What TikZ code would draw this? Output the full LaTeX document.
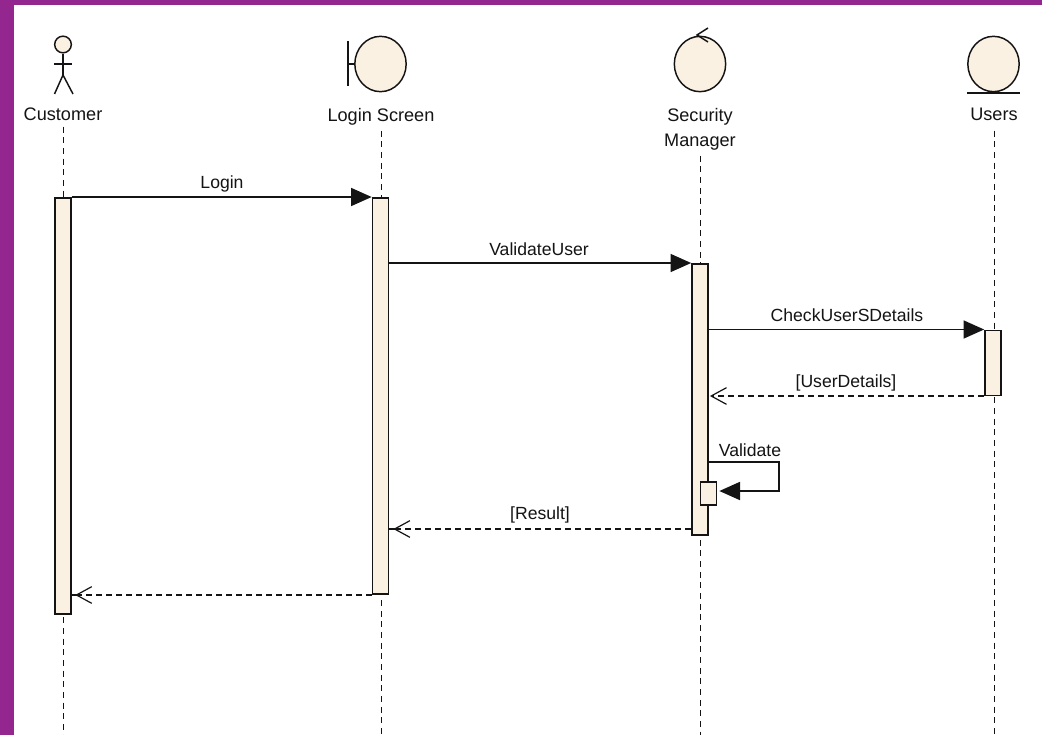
\documentclass[tikz,border=0pt]{standalone}
\usepackage{fontspec}
\setmainfont{Liberation Sans}
\usetikzlibrary{arrows.meta,shapes.geometric}
\definecolor{umlfill}{HTML}{FBF1E3}
\definecolor{frame}{HTML}{93278F}
\definecolor{ink}{HTML}{141414}
\tikzset{
  x=0.75pt,y=-0.75pt,
  lbl/.style={font=\fontsize{13.2pt}{18.7pt}\selectfont,text=ink,inner sep=0pt,align=center},
  headname/.style={lbl,font=\fontsize{13.6pt}{18.7pt}\selectfont,anchor=north},
  msgname/.style={lbl,anchor=base},
  act/.style={draw=ink,fill=umlfill,line width=1.25pt,inner sep=0pt,minimum width=12pt,anchor=north},
  roundel/.style={ellipse,draw=ink,fill=umlfill,line width=1.1pt,inner sep=0pt,minimum width=38.5pt,minimum height=41.5pt},
  glyph/.style={draw=ink,line width=1.1pt},
  life/.style={draw=ink,line width=1.2pt,dash pattern=on 4.5pt off 3.5pt},
  call/.style={draw=ink,line width=1.3pt,-{Triangle[length=15.5pt,width=13.5pt]}},
  rettip/.style={draw=ink,line width=1.2pt,dash pattern=on 4.5pt off 3pt,-{Straight Barb[length=11.5pt,width=12.5pt,line width=0.9pt]}},
  stub/.style={draw=ink,line width=1.2pt},
}
\begin{document}
\begin{tikzpicture}
\useasboundingbox (0,0) rectangle (1042,735);
\fill[white] (0,0) rectangle (1042,735);
\fill[frame] (0,0) rectangle (14,735);
\fill[frame] (0,0) rectangle (1042,5);

% heads
\node[circle,draw=ink,fill=umlfill,line width=1.1pt,inner sep=0pt,minimum size=12.5pt] (custhead) at (63,44.5) {};
\coordinate (custhip) at (63,75);
\coordinate (custarmL) at (54,64);
\coordinate (custarmR) at (72,64);
\coordinate (custlegL) at (54.5,94);
\coordinate (custlegR) at (73,94);
\draw[glyph] (custhead.south) -- (custhip);
\draw[glyph] (custarmL) -- (custarmR);
\draw[glyph] (custlegL) -- (custhip) -- (custlegR);

\node[roundel] (login) at (380.5,64) {};
\coordinate (barT) at (348,41);
\coordinate (barB) at (348,86);
\coordinate (barM) at (348,64);
\draw[glyph] (barT) -- (barB);
\draw[glyph] (barM) -- (login.west);

\node[roundel] (sec) at (700,64) {};
\coordinate (ctlTip) at (697,35);
\coordinate (ctlA) at (708,28);
\coordinate (ctlB) at (708,42);
\draw[glyph] (ctlA) -- (ctlTip) -- (ctlB);

\node[roundel] (users) at (993.5,64) {};
\coordinate (entL) at (967,93);
\coordinate (entR) at (1020,93);
\draw[glyph,line width=1.4pt] (entL) -- (entR);

% names
\node[headname] (custname) at (63,108) {Customer};
\node[headname] (loginname) at (381,108) {Login Screen};
\node[headname] (secname) at (700,108) {Security\\Manager};
\node[headname] (usersname) at (994,108) {Users};

% lifeline ends
\coordinate (custend) at (63.5,735);
\coordinate (loginend) at (381.5,735);
\coordinate (secend) at (700.5,735);
\coordinate (usersend) at (994.5,735);
\draw[life,shorten <=4pt] (custname.south -| custend) -- (custend);
\draw[life,shorten <=4pt] (loginname.south -| loginend) -- (loginend);
\draw[life,shorten <=4pt] (secname.south -| secend) -- (secend);
\draw[life,shorten <=7pt] (usersname.south -| usersend) -- (usersend);

% activations
\node[act,minimum height=312pt] (custbox) at (63,197) {};
\node[act,minimum height=297pt] (loginbox) at (380.5,197) {};
\node[act,minimum height=203.25pt] (secbox) at (700,263) {};
\node[act,minimum height=17.25pt] (selfbox) at (708.5,481) {};
\node[act,minimum height=48.75pt] (usersbox) at (993,329.5) {};

% calls
\draw[call] (custbox.north east) -- (loginbox.north west);
\node[msgname] (m1) at (222,188) {Login};
\draw[call] (loginbox.east |- 0,263) coordinate (v0) -- (secbox.north west);
\node[msgname] (m2) at (539,255) {ValidateUser};
\draw[call] (secbox.east |- 0,329.5) coordinate (c0) -- (usersbox.north west);
\node[msgname] (m3) at (847,321) {CheckUserSDetails};

% returns
\coordinate (ud) at (0,396);
\draw[rettip,shorten >=0.8pt] (usersbox.south west |- ud) -- (secbox.east |- ud);
\node[msgname] (m4) at (846,387) {[UserDetails]};

\coordinate (se) at (779,462);
\coordinate (sf) at (779,491);
\draw[draw=ink,line width=1.3pt,-{Triangle[length=15.5pt,width=13.5pt]},shorten >=1.5pt]
  (secbox.east |- se) -- (se) -- (sf) -- (selfbox.east |- sf);
\node[msgname] (m5) at (750,456) {Validate};

\coordinate (re) at (0,529);
\draw[rettip,shorten >=3pt] (secbox.west |- re) -- (loginbox.east |- re);
\draw[stub] (loginbox.east |- re) -- ++(7,0);
\node[msgname] (m6) at (540,519) {[Result]};

\coordinate (fi) at (0,595);
\draw[rettip,shorten >=2.5pt] (loginbox.west |- fi) -- (custbox.east |- fi);
\draw[stub] (custbox.east |- fi) -- ++(6,0);
\end{tikzpicture}
\end{document}
